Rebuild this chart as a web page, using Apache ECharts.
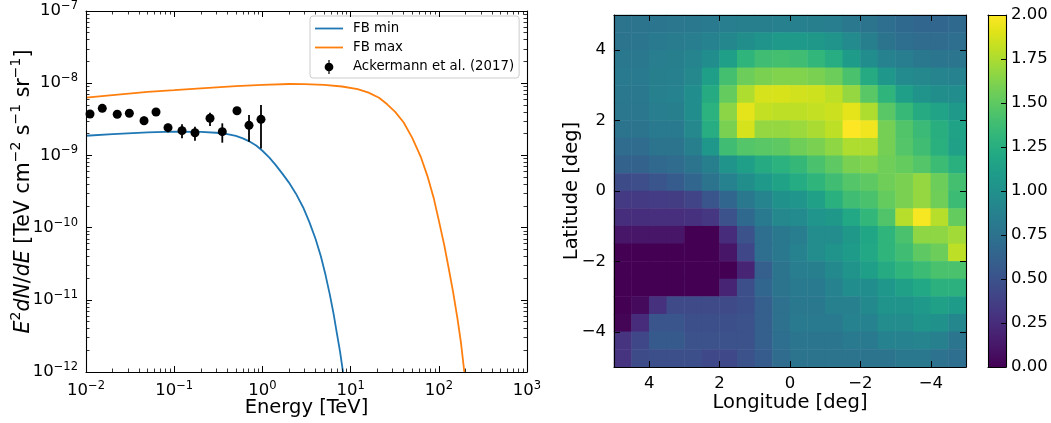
<!DOCTYPE html>
<html>
<head>
<meta charset="utf-8">
<script src="https://cdn.jsdelivr.net/npm/echarts@6/dist/echarts.min.js"></script>
<style>
  html, body { margin: 0; padding: 0; background: #fff; }
  #chart { width: 1051px; height: 423px; }
</style>
</head>
<body>
<div id="chart"></div>
<script>
// ---- Spectrum panel: E^2 dN/dE [TeV cm^-2 s^-1 sr^-1] versus energy [TeV] ----
const fbMinEnergy = [0.01, 0.02, 0.05, 0.1, 0.2, 0.3, 0.4, 0.5, 0.6, 0.7, 0.85, 1.0, 1.2, 1.41, 1.7, 2.0, 2.4, 2.9, 3.4, 4.0, 4.6, 5.2, 5.8, 6.4, 7.0, 7.6, 8.2, 8.8];
const fbMinFlux   = [1.87e-9, 1.97e-9, 2.09e-9, 2.14e-9, 2.12e-9, 2.06e-9, 1.97e-9, 1.86e-9, 1.72e-9, 1.58e-9, 1.37e-9, 1.16e-9, 9.3e-10, 7.4e-10, 5.5e-10, 4.2e-10, 2.95e-10, 1.9e-10, 1.2e-10, 7.0e-11, 4.0e-11, 2.2e-11, 1.2e-11, 6.5e-12, 3.4e-12, 1.9e-12, 1.0e-12, 5e-13];

const fbMaxEnergy = [0.01, 0.02, 0.05, 0.1, 0.2, 0.5, 1, 2, 3, 5, 8, 12, 16, 21, 26, 32, 40, 50, 63, 75, 88, 100, 115, 129, 145, 162, 178, 193, 205];
const fbMaxFlux   = [6.3e-9, 6.85e-9, 7.6e-9, 8.0e-9, 8.5e-9, 9.1e-9, 9.5e-9, 9.75e-9, 9.7e-9, 9.45e-9, 9.0e-9, 8.3e-9, 7.4e-9, 6.3e-9, 5.1e-9, 4.0e-9, 2.85e-9, 1.75e-9, 9.3e-10, 5.0e-10, 2.5e-10, 1.26e-10, 5.8e-11, 2.8e-11, 1.3e-11, 5.7e-12, 2.6e-12, 1.1e-12, 5.5e-13];

// Ackermann et al. (2017) measurements with their error ranges
const ackEnergy   = [0.0111, 0.0153, 0.0226, 0.031, 0.0455, 0.0622, 0.0851, 0.1226, 0.172, 0.2547, 0.351, 0.515, 0.705, 0.964];
const ackFlux     = [3.74e-9, 4.49e-9, 3.71e-9, 3.83e-9, 3.02e-9, 3.99e-9, 2.42e-9, 2.2e-9, 2.06e-9, 3.27e-9, 2.13e-9, 4.16e-9, 2.61e-9, 3.16e-9];
const ackFluxLow  = [3.3e-9, 4.0e-9, 3.3e-9, 3.4e-9, 2.65e-9, 3.55e-9, 2.1e-9, 1.73e-9, 1.6e-9, 2.55e-9, 1.5e-9, 3.7e-9, 1.55e-9, 1.25e-9];
const ackFluxHigh = [4.2e-9, 5.0e-9, 4.15e-9, 4.3e-9, 3.45e-9, 4.5e-9, 2.75e-9, 2.7e-9, 2.5e-9, 3.9e-9, 2.78e-9, 4.65e-9, 3.63e-9, 4.99e-9];

const seriesNames = ['FB min', 'FB max', 'Ackermann et al. (2017)'];

// ---- Map panel: 0.5 deg pixels, longitude decreasing to the right ----
const lonCenters = [4.75, 4.25, 3.75, 3.25, 2.75, 2.25, 1.75, 1.25, 0.75, 0.25, -0.25, -0.75, -1.25, -1.75, -2.25, -2.75, -3.25, -3.75, -4.25, -4.75];
const latCenters = [-4.75, -4.25, -3.75, -3.25, -2.75, -2.25, -1.75, -1.25, -0.75, -0.25, 0.25, 0.75, 1.25, 1.75, 2.25, 2.75, 3.25, 3.75, 4.25, 4.75];
// rows listed from the top (lat 4.75) down to the bottom (lat -4.75)
const mapRows = [
  [0.76, 0.76, 0.78, 0.79, 0.80, 0.82, 0.84, 0.86, 0.86, 0.87, 0.87, 0.86, 0.84, 0.80, 0.76, 0.72, 0.68, 0.66, 0.66, 0.68],
  [0.77, 0.78, 0.82, 0.83, 0.85, 0.88, 0.92, 0.98, 1.03, 1.07, 1.08, 1.06, 1.02, 0.95, 0.86, 0.77, 0.72, 0.70, 0.70, 0.72],
  [0.80, 0.80, 0.85, 0.86, 0.90, 0.97, 1.12, 1.30, 1.38, 1.40, 1.38, 1.32, 1.24, 1.10, 0.97, 0.88, 0.84, 0.80, 0.78, 0.78],
  [0.82, 0.82, 0.86, 0.87, 0.93, 1.12, 1.40, 1.55, 1.60, 1.62, 1.62, 1.60, 1.55, 1.42, 1.22, 1.05, 0.95, 0.93, 0.90, 0.88],
  [0.80, 0.80, 0.87, 0.88, 0.97, 1.22, 1.52, 1.76, 1.87, 1.88, 1.86, 1.85, 1.80, 1.68, 1.48, 1.30, 1.12, 1.03, 0.98, 0.97],
  [0.79, 0.79, 0.85, 0.86, 0.97, 1.28, 1.65, 1.92, 1.82, 1.80, 1.80, 1.82, 1.84, 1.92, 1.76, 1.48, 1.34, 1.22, 1.16, 1.08],
  [0.76, 0.76, 0.82, 0.82, 0.93, 1.24, 1.60, 1.87, 1.68, 1.68, 1.70, 1.74, 1.80, 2.00, 1.96, 1.58, 1.45, 1.35, 1.25, 1.15],
  [0.70, 0.70, 0.77, 0.77, 0.86, 1.05, 1.38, 1.46, 1.48, 1.50, 1.56, 1.60, 1.66, 1.76, 1.75, 1.58, 1.46, 1.38, 1.26, 1.14],
  [0.63, 0.63, 0.67, 0.70, 0.76, 0.86, 1.03, 1.12, 1.22, 1.28, 1.33, 1.42, 1.50, 1.60, 1.62, 1.56, 1.52, 1.46, 1.36, 1.26],
  [0.46, 0.47, 0.52, 0.58, 0.66, 0.76, 0.88, 0.98, 1.07, 1.15, 1.23, 1.30, 1.38, 1.46, 1.50, 1.56, 1.60, 1.68, 1.55, 1.40],
  [0.34, 0.34, 0.35, 0.36, 0.40, 0.52, 0.66, 0.80, 0.90, 1.00, 1.04, 1.14, 1.26, 1.38, 1.42, 1.52, 1.60, 1.68, 1.56, 1.36],
  [0.26, 0.26, 0.27, 0.27, 0.28, 0.32, 0.50, 0.68, 0.82, 0.93, 0.95, 1.04, 1.06, 1.20, 1.32, 1.45, 1.78, 1.98, 1.78, 1.52],
  [0.12, 0.12, 0.12, 0.12, 0.00, 0.00, 0.25, 0.50, 0.72, 0.80, 0.85, 0.96, 0.96, 1.06, 1.18, 1.30, 1.42, 1.66, 1.66, 1.72],
  [0.00, 0.00, 0.00, 0.00, 0.00, 0.00, 0.12, 0.42, 0.72, 0.80, 0.88, 0.96, 1.02, 1.10, 1.20, 1.30, 1.38, 1.50, 1.55, 1.80],
  [0.00, 0.00, 0.00, 0.00, 0.00, 0.00, 0.00, 0.20, 0.60, 0.76, 0.85, 0.86, 0.94, 1.02, 1.12, 1.22, 1.30, 1.36, 1.42, 1.42],
  [0.00, 0.00, 0.00, 0.00, 0.00, 0.00, 0.20, 0.48, 0.66, 0.76, 0.82, 0.82, 0.88, 0.97, 0.97, 1.05, 1.14, 1.20, 1.27, 1.27],
  [0.00, 0.05, 0.28, 0.44, 0.44, 0.44, 0.44, 0.48, 0.60, 0.74, 0.80, 0.80, 0.87, 0.87, 0.94, 1.02, 1.02, 1.08, 1.14, 1.10],
  [0.02, 0.25, 0.52, 0.52, 0.48, 0.48, 0.48, 0.50, 0.60, 0.74, 0.82, 0.82, 0.82, 0.88, 0.88, 0.96, 0.96, 1.03, 1.00, 0.92],
  [0.30, 0.42, 0.56, 0.56, 0.50, 0.50, 0.50, 0.50, 0.60, 0.72, 0.78, 0.78, 0.78, 0.82, 0.82, 0.88, 0.88, 0.90, 0.87, 0.78],
  [0.30, 0.45, 0.48, 0.48, 0.48, 0.43, 0.43, 0.50, 0.58, 0.70, 0.76, 0.76, 0.76, 0.77, 0.77, 0.77, 0.80, 0.80, 0.75, 0.72]
];
const mapTicks = [-4, -2, 0, 2, 4];
const colorbarMin = 0;
const colorbarMax = 2;
const colorbarStep = 0.25;

// viridis, sampled every 5 % from low to high
const viridis = ['#440154', '#471365', '#482475', '#463480', '#414487', '#3b528b', '#355f8d', '#2f6c8e', '#2a788e', '#25848e', '#21918c', '#1e9c89', '#22a884', '#2fb47c', '#44bf70', '#5ec962', '#7ad151', '#9bd93c', '#bddf26', '#dfe318', '#fde725'];

// ---- helpers ----
const FONT = 'DejaVu Sans';
const MINUS = '\u2212';
const BLACK = '#000';

function powerLabel(v) {
  const e = Math.round(Math.log10(v));
  return '10{s|' + (e < 0 ? MINUS : '') + Math.abs(e) + '}';
}
function signedLabel(v) {
  return (v < 0 ? MINUS : '') + Math.abs(v);
}

const lineStyleAxis = { color: BLACK, width: 1.1 };
const supRich = { s: { fontSize: 11.5, lineHeight: 12, verticalAlign: 'top', fontFamily: FONT, color: BLACK } };

function logAxis(gridIndex, position, min, max, withLabels, extra) {
  return Object.assign({
    type: 'log', logBase: 10, gridIndex, position, min, max, z: 5,
    axisLine: { show: true, onZero: false, lineStyle: lineStyleAxis },
    axisTick: { show: true, inside: true, length: 6, lineStyle: { color: BLACK, width: 1 } },
    minorTick: { show: true, splitNumber: 9, length: 3.5, lineStyle: { color: BLACK, width: 0.8 } },
    splitLine: { show: false },
    minorSplitLine: { show: false },
    axisLabel: withLabels ? {
      show: true, formatter: powerLabel, color: BLACK, fontFamily: FONT, fontSize: 16.5,
      lineHeight: 22, showMinLabel: true, showMaxLabel: true, rich: supRich
    } : { show: false }
  }, extra || {});
}

function mapAxis(gridIndex, position, inverse, withLabels, extra) {
  return Object.assign({
    type: 'value', gridIndex, position, min: -5, max: 5, inverse, z: 5,
    axisLine: { show: true, onZero: false, lineStyle: lineStyleAxis },
    axisTick: { show: true, inside: true, length: 6, customValues: mapTicks, lineStyle: { color: BLACK, width: 1 } },
    splitLine: { show: false },
    axisLabel: withLabels ? {
      show: true, customValues: mapTicks, formatter: signedLabel, color: BLACK,
      fontFamily: FONT, fontSize: 16.5
    } : { show: false }
  }, extra || {});
}

function frameAxis(gridIndex, position, min, max) {
  return {
    type: 'value', gridIndex, position, min, max, z: 5,
    axisLine: { show: true, onZero: false, lineStyle: lineStyleAxis },
    axisTick: { show: false }, axisLabel: { show: false }, splitLine: { show: false }
  };
}

// ---- series data built from the arrays above ----
const fbMinData = fbMinEnergy.map((e, i) => [e, fbMinFlux[i]]);
const fbMaxData = fbMaxEnergy.map((e, i) => [e, fbMaxFlux[i]]);
const ackPoints = ackEnergy.map((e, i) => [e, ackFlux[i]]);
const ackBars = ackEnergy.map((e, i) => [e, ackFluxLow[i], ackFluxHigh[i]]);
const heatData = [];
mapRows.forEach((row, r) => {
  row.forEach((v, c) => heatData.push([c, latCenters.length - 1 - r, v]));
});
const viridisStops = viridis.map((c, i) => ({ offset: 1 - i / (viridis.length - 1), color: c }));

const titleStyle = { fontSize: 19.5, fontFamily: FONT, color: BLACK };
const lineIcon = 'path://M0,0h28v1.8h-28Z';
const pointIcon = 'path://M4.3,0h1.4v16h-1.4Z M0,8a5,5 0 1,1 10,0a5,5 0 1,1 -10,0Z';

const chart = echarts.init(document.getElementById('chart'), null, { renderer: 'canvas' });
chart.setOption({
  animation: false,
  textStyle: { fontFamily: FONT, color: BLACK },
  grid: [
    { left: 86, top: 11, width: 441, height: 361, containLabel: false, outerBoundsMode: 'none' },
    { left: 614, top: 15, width: 352, height: 352, containLabel: false, outerBoundsMode: 'none' },
    { left: 988, top: 15, width: 18, height: 352, containLabel: false, outerBoundsMode: 'none' }
  ],
  legend: {
    data: [
      { name: seriesNames[0], icon: lineIcon },
      { name: seriesNames[1], icon: lineIcon },
      { name: seriesNames[2], icon: pointIcon }
    ],
    orient: 'vertical', left: 310, top: 16,
    itemWidth: 28, itemHeight: 14, itemGap: 6,
    padding: [6, 5, 4, 5],
    backgroundColor: 'rgba(255,255,255,0.8)',
    borderColor: '#cccccc', borderWidth: 1, borderRadius: 3,
    selectedMode: false,
    textStyle: { fontFamily: FONT, fontSize: 13.3, color: BLACK, padding: [0, 0, 0, 5] }
  },
  xAxis: [
    logAxis(0, 'bottom', 0.01, 1000, true, {
      name: 'Energy [TeV]', nameLocation: 'middle', nameGap: 26, nameMoveOverlap: false, nameTextStyle: titleStyle
    }),
    logAxis(0, 'top', 0.01, 1000, false),
    { type: 'category', gridIndex: 1, data: lonCenters, show: false },
    mapAxis(1, 'bottom', true, true, {
      name: 'Longitude [deg]', nameLocation: 'middle', nameGap: 26, nameMoveOverlap: false, nameTextStyle: titleStyle
    }),
    mapAxis(1, 'top', true, false),
    frameAxis(2, 'bottom', 0, 1),
    frameAxis(2, 'top', 0, 1)
  ],
  yAxis: [
    logAxis(0, 'left', 1e-12, 1e-7, true, {
      name: '{i|E}{s|2}{i|dN}/{i|dE} [TeV cm{s|' + MINUS + '2} s{s|' + MINUS + '1} sr{s|' + MINUS + '1}]',
      nameLocation: 'middle', nameRotate: 90, nameGap: 47, nameMoveOverlap: false,
      nameTextStyle: {
        fontSize: 20.5, fontFamily: FONT, color: BLACK, lineHeight: 30,
        rich: {
          i: { fontStyle: 'italic', fontSize: 20.5, fontFamily: FONT, color: BLACK, lineHeight: 30 },
          s: { fontSize: 14, lineHeight: 16, verticalAlign: 'top', fontFamily: FONT, color: BLACK }
        }
      }
    }),
    logAxis(0, 'right', 1e-12, 1e-7, false),
    { type: 'category', gridIndex: 1, data: latCenters, show: false },
    mapAxis(1, 'left', false, true, {
      name: 'Latitude [deg]', nameLocation: 'middle', nameRotate: 90, nameGap: 32, nameMoveOverlap: false, nameTextStyle: titleStyle
    }),
    mapAxis(1, 'right', false, false),
    frameAxis(2, 'left', colorbarMin, colorbarMax),
    {
      type: 'value', gridIndex: 2, position: 'right', min: colorbarMin, max: colorbarMax, interval: colorbarStep, z: 5,
      axisLine: { show: true, onZero: false, lineStyle: lineStyleAxis },
      axisTick: { show: true, inside: true, length: 5, lineStyle: { color: BLACK, width: 1 } },
      splitLine: { show: false },
      axisLabel: { show: true, formatter: v => v.toFixed(2), color: BLACK, fontFamily: FONT, fontSize: 16.5, margin: 5 }
    }
  ],
  visualMap: [{
    type: 'continuous', min: colorbarMin, max: colorbarMax, seriesIndex: 4, show: false,
    inRange: { color: viridis }
  }],
  series: [
    {
      name: seriesNames[0], type: 'line', xAxisIndex: 0, yAxisIndex: 0, data: fbMinData,
      symbol: 'none', smooth: false, clip: true,
      lineStyle: { color: '#1f77b4', width: 1.8 }, itemStyle: { color: '#1f77b4' }, z: 3
    },
    {
      name: seriesNames[1], type: 'line', xAxisIndex: 0, yAxisIndex: 0, data: fbMaxData,
      symbol: 'none', smooth: false, clip: true,
      lineStyle: { color: '#ff7f0e', width: 1.8 }, itemStyle: { color: '#ff7f0e' }, z: 3
    },
    {
      name: seriesNames[2], type: 'custom', xAxisIndex: 0, yAxisIndex: 0, data: ackBars,
      itemStyle: { color: BLACK, opacity: 1 }, z: 4, silent: true,
      renderItem: function (params, api) {
        const lo = api.coord([api.value(0), api.value(1)]);
        const hi = api.coord([api.value(0), api.value(2)]);
        return {
          type: 'line',
          shape: { x1: lo[0], y1: lo[1], x2: hi[0], y2: hi[1] },
          style: { stroke: BLACK, lineWidth: 1.8 }
        };
      }
    },
    {
      name: seriesNames[2], type: 'scatter', xAxisIndex: 0, yAxisIndex: 0, data: ackPoints,
      symbol: 'circle', symbolSize: 9, itemStyle: { color: BLACK, opacity: 1 }, z: 4, silent: true
    },
    {
      type: 'heatmap', xAxisIndex: 2, yAxisIndex: 2, data: heatData,
      progressive: 0, silent: true, emphasis: { disabled: true }, itemStyle: { borderWidth: 0 }
    },
    {
      type: 'custom', xAxisIndex: 5, yAxisIndex: 5, data: [[0, 1, colorbarMin, colorbarMax]], silent: true, z: 2,
      renderItem: function (params, api) {
        const tl = api.coord([api.value(0), api.value(3)]);
        const br = api.coord([api.value(1), api.value(2)]);
        return {
          type: 'rect',
          shape: { x: tl[0], y: tl[1], width: br[0] - tl[0], height: br[1] - tl[1] },
          style: { fill: new echarts.graphic.LinearGradient(0, 0, 0, 1, viridisStops) }
        };
      }
    }
  ]
});
</script>
</body>
</html>
